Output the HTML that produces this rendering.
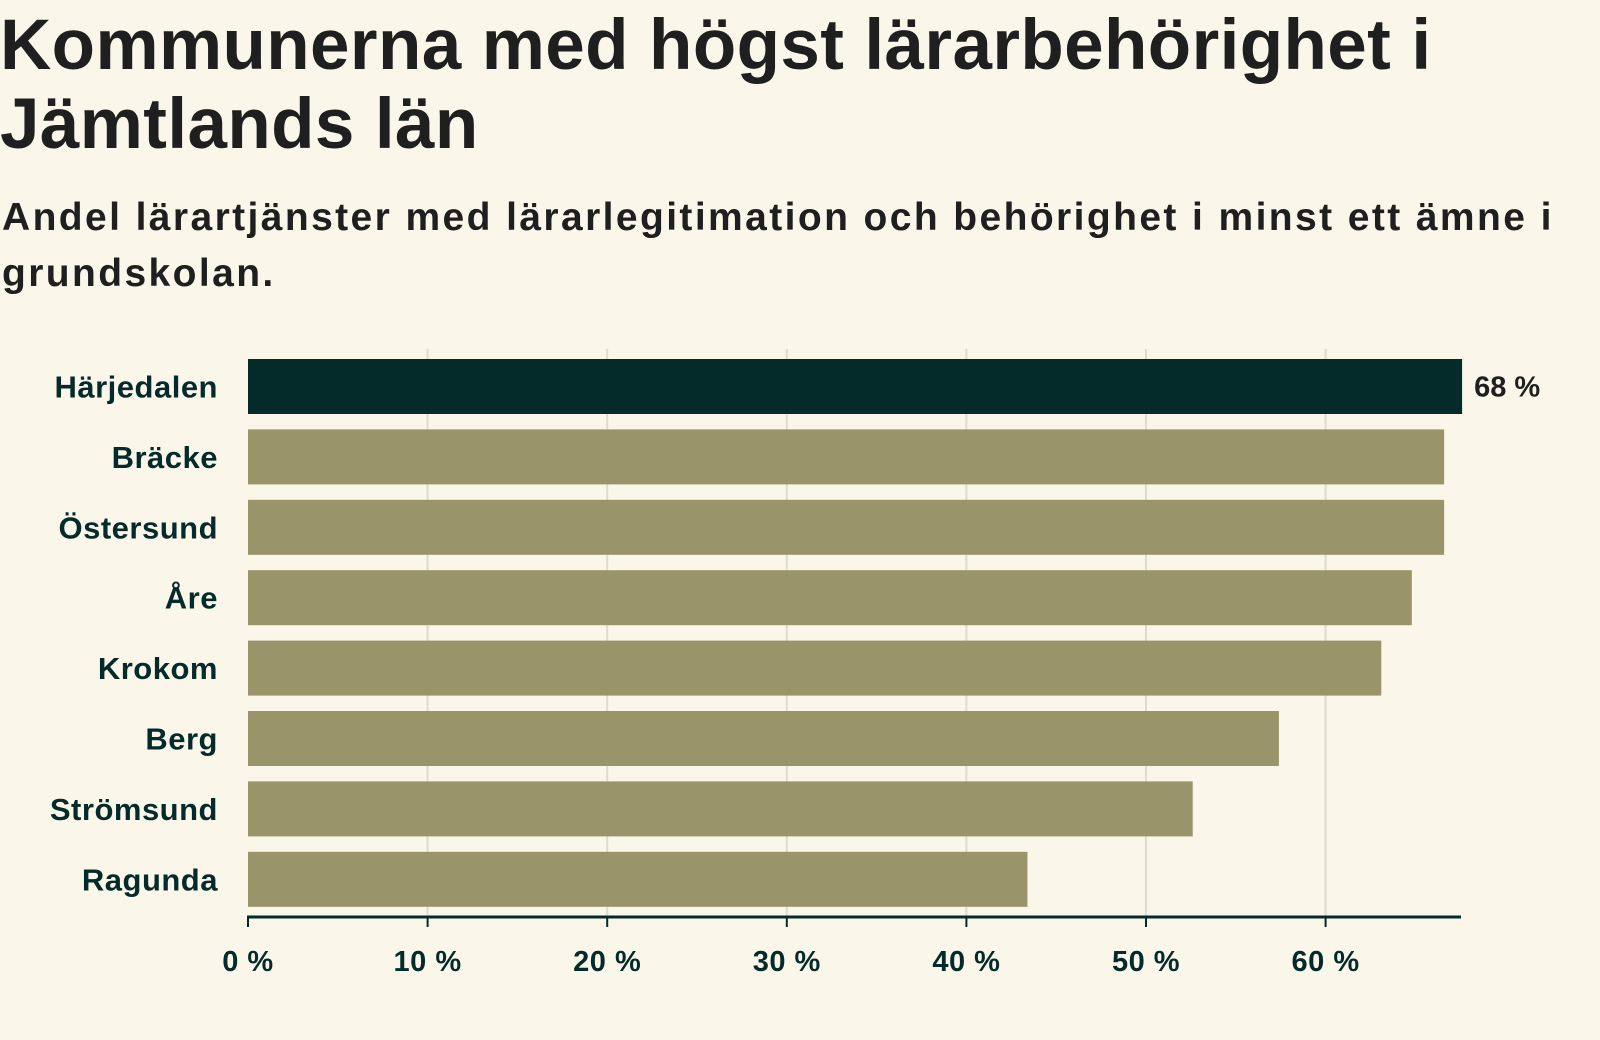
<!DOCTYPE html>
<html><head><meta charset="utf-8"><style>
html,body{margin:0;padding:0;background:#faf7ea;width:1600px;height:1040px;overflow:hidden;font-family:"Liberation Sans",sans-serif;}
h1{position:absolute;left:0;top:6px;margin:0;font-size:71px;line-height:79px;font-weight:bold;color:#1f1f1f;white-space:nowrap;letter-spacing:0.4px}
h2{position:absolute;left:2px;top:190px;margin:0;font-size:39px;line-height:56px;font-weight:bold;color:#1f1f1f;white-space:nowrap;letter-spacing:2.4px}
svg{position:absolute;left:0;top:0}
</style></head><body>
<h1>Kommunerna med högst lärarbehörighet i<br>Jämtlands län</h1>
<h2>Andel lärartjänster med lärarlegitimation och behörighet i minst ett ämne i<br>grundskolan.</h2>
<svg id="chart" width="1600" height="1040"></svg>
<script>
const categories=["Härjedalen","Bräcke","Östersund","Åre","Krokom","Berg","Strömsund","Ragunda"];
const values=[67.6,66.6,66.6,64.8,63.1,57.4,52.6,43.4];
const ticks=[0,10,20,30,40,50,60];
const tickLabels=["0 %","10 %","20 %","30 %","40 %","50 %","60 %"];
const valueLabel="68 %";
const svg=document.getElementById('chart');
const NS='http://www.w3.org/2000/svg';
const x0=248,pxPer=17.96,top0=359,pitch=70.4,bh=55,axisY=917,axisEnd=1461;
const X=v=>x0+v*pxPer, Y=i=>top0+i*pitch;
function mk(t,a){const e=document.createElementNS(NS,t);for(const k in a)e.setAttribute(k,a[k]);svg.appendChild(e);return e;}
ticks.forEach((t,i)=>{
 if(i>0){const g=mk('line',{x1:X(t),x2:X(t),y1:349,y2:axisY,stroke:'#dedbd0','stroke-width':2});
 
 }
 const tk=mk('line',{x1:X(t),x2:X(t),y1:axisY,y2:axisY+10,stroke:'#052a2a','stroke-width':2});
 
 
 const tl=mk('text',{x:X(t),y:971,'text-anchor':'middle','font-size':29,'font-weight':'bold',fill:'#052a2a','letter-spacing':0.5});
 tl.textContent=tickLabels[i];
 
 
});
categories.forEach((c,i)=>{
 const r=mk('rect',{x:x0,y:Y(i),width:X(values[i])-x0,height:bh,fill:i===0?'#052a2a':'#99946a'});
 
 
 const l=mk('text',{x:218,y:Y(i)+bh/2+11,'text-anchor':'end','font-size':31,'font-weight':'bold',fill:'#052a2a','letter-spacing':0.5});
 l.textContent=c;
 
 
});
const vl=mk('text',{x:X(values[0])+12,y:Y(0)+bh/2+10,'font-size':29,'font-weight':'bold',fill:'#1f1f1f'});
vl.textContent=valueLabel;


const ax=mk('line',{x1:x0-1,x2:axisEnd,y1:axisY,y2:axisY,stroke:'#052a2a','stroke-width':3});


</script>
</body></html>
